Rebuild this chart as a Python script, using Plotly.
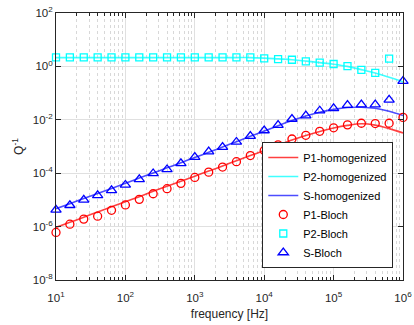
import numpy as np
import plotly.graph_objects as go

# Frequency samples (log10 of Hz), five per decade
log_freq = [1.0, 1.2, 1.4, 1.6, 1.8, 2.0, 2.2, 2.4, 2.6, 2.8, 3.0, 3.2, 3.4,
            3.6, 3.8, 4.0, 4.2, 4.4, 4.6, 4.8, 5.0, 5.2, 5.4, 5.6, 5.8, 6.0]

# log10(Q^-1) for the homogenized models
p1_homog = [-6.03, -5.84, -5.65, -5.45, -5.26, -5.07, -4.88, -4.68, -4.49, -4.30,
            -4.11, -3.92, -3.73, -3.53, -3.34, -3.15, -2.95, -2.76, -2.59, -2.44,
            -2.31, -2.21, -2.15, -2.20, -2.33, -2.49]
p2_homog = [0.33, 0.33, 0.33, 0.33, 0.33, 0.33, 0.33, 0.33, 0.33, 0.33,
            0.33, 0.33, 0.33, 0.33, 0.33, 0.31, 0.28, 0.25, 0.20, 0.14,
            0.08, 0.00, -0.12, -0.25, -0.41, -0.58]
s_homog = [-5.33, -5.14, -4.95, -4.76, -4.57, -4.38, -4.18, -3.99, -3.80, -3.61,
           -3.41, -3.22, -3.02, -2.82, -2.62, -2.42, -2.22, -2.03, -1.86, -1.72,
           -1.61, -1.54, -1.53, -1.57, -1.68, -1.84]

# log10(Q^-1) from the Bloch computations (None = no result)
p1_bloch = [-6.22, -5.91, -5.72, -5.61, -5.39, -5.19, -4.98, -4.77, -4.58, -4.38,
            -4.16, -3.96, -3.77, -3.57, -3.34, -3.15, -2.94, -2.72, -2.58, -2.43,
            -2.30, -2.19, -2.13, -2.14, -2.13, -1.91]
p2_bloch = [0.34, 0.34, 0.34, 0.34, 0.34, 0.34, 0.34, 0.34, 0.34, 0.34,
            0.34, 0.34, 0.34, 0.34, 0.34, 0.30, 0.27, 0.25, 0.19, 0.14,
            0.09, 0.01, -0.13, -0.24, 0.29, None]
s_bloch = [-5.37, -5.20, -5.00, -4.83, -4.64, -4.44, -4.23, -4.01, -3.86, -3.63,
           -3.40, -3.19, -3.02, -2.83, -2.61, -2.40, -2.20, -1.97, -1.84, -1.66,
           -1.57, -1.45, -1.43, -1.43, -1.25, -0.55]

x_tick_exp = [1, 2, 3, 4, 5, 6]
y_tick_exp = [2, 0, -2, -4, -6, -8]


def pw(v):
    return [None if e is None else 10.0 ** e for e in v]


freq = pw(log_freq)

fig = go.Figure()

line_specs = [
    ("P1-homogenized", p1_homog, "rgba(255,0,0,0.75)"),
    ("P2-homogenized", p2_homog, "rgba(0,255,255,0.75)"),
    ("S-homogenized", s_homog, "rgba(0,0,255,0.7)"),
]
for name, vals, col in line_specs:
    fig.add_trace(go.Scatter(x=freq, y=pw(vals), mode="lines", name=name,
                             line=dict(color=col, width=1.6, shape="spline")))

marker_specs = [
    ("P1-Bloch", p1_bloch, "#ff0000", "circle-open", 8),
    ("P2-Bloch", p2_bloch, "#00ffff", "square-open", 7),
    ("S-Bloch", s_bloch, "#0000ff", "triangle-up-open", 9),
]
for name, vals, col, sym, sz in marker_specs:
    fig.add_trace(go.Scatter(x=freq, y=pw(vals), mode="markers", name=name,
                             cliponaxis=False,
                             marker=dict(symbol=sym, size=sz, color=col,
                                         line=dict(color=col, width=1.3))))

axis_col = "#262626"
fig.update_xaxes(
    type="log", range=[1, 6], automargin=False,
    tickmode="array", tickvals=[10.0 ** e for e in x_tick_exp],
    ticktext=["10<sup>%d</sup>" % e for e in x_tick_exp],
    ticks="inside", ticklen=5, tickcolor=axis_col, ticklabelstandoff=7,
    showline=True, linecolor=axis_col, linewidth=1, mirror="allticks",
    showgrid=True, gridcolor="#e0e0e0", gridwidth=1,
    minor=dict(dtick="D1", ticks="inside", ticklen=3, tickcolor=axis_col,
               showgrid=True, gridcolor="#d8d8d8", griddash="dot", gridwidth=1),
    zeroline=False,
    title=dict(text="frequency [Hz]", font=dict(size=12, color=axis_col), standoff=6),
    tickfont=dict(size=11.5, color=axis_col),
)
fig.update_yaxes(
    type="log", range=[-8, 2], automargin=False,
    tickmode="array", tickvals=[10.0 ** e for e in y_tick_exp],
    ticktext=["10<sup>%d</sup>" % e for e in y_tick_exp],
    ticks="inside", ticklen=5, tickcolor=axis_col,
    showline=True, linecolor=axis_col, linewidth=1, mirror="allticks",
    showgrid=True, gridcolor="#e0e0e0", gridwidth=1,
    zeroline=False,
    title=dict(text="Q<sup>-1</sup>", font=dict(size=12, color=axis_col), standoff=6),
    tickfont=dict(size=11.5, color=axis_col),
)

fig.update_layout(
    width=414, height=325,
    margin=dict(l=56, r=11, t=13, b=45),
    paper_bgcolor="white", plot_bgcolor="white",
    font=dict(family="Liberation Sans, Arial, sans-serif", size=11, color=axis_col),
    legend=dict(x=0.972, y=0.045, xanchor="right", yanchor="bottom",
                bgcolor="white", bordercolor=axis_col, borderwidth=1,
                font=dict(size=11, color="#000000"), tracegroupgap=0,
                itemwidth=30),
    showlegend=True,
)

fig.write_html("out.html")
